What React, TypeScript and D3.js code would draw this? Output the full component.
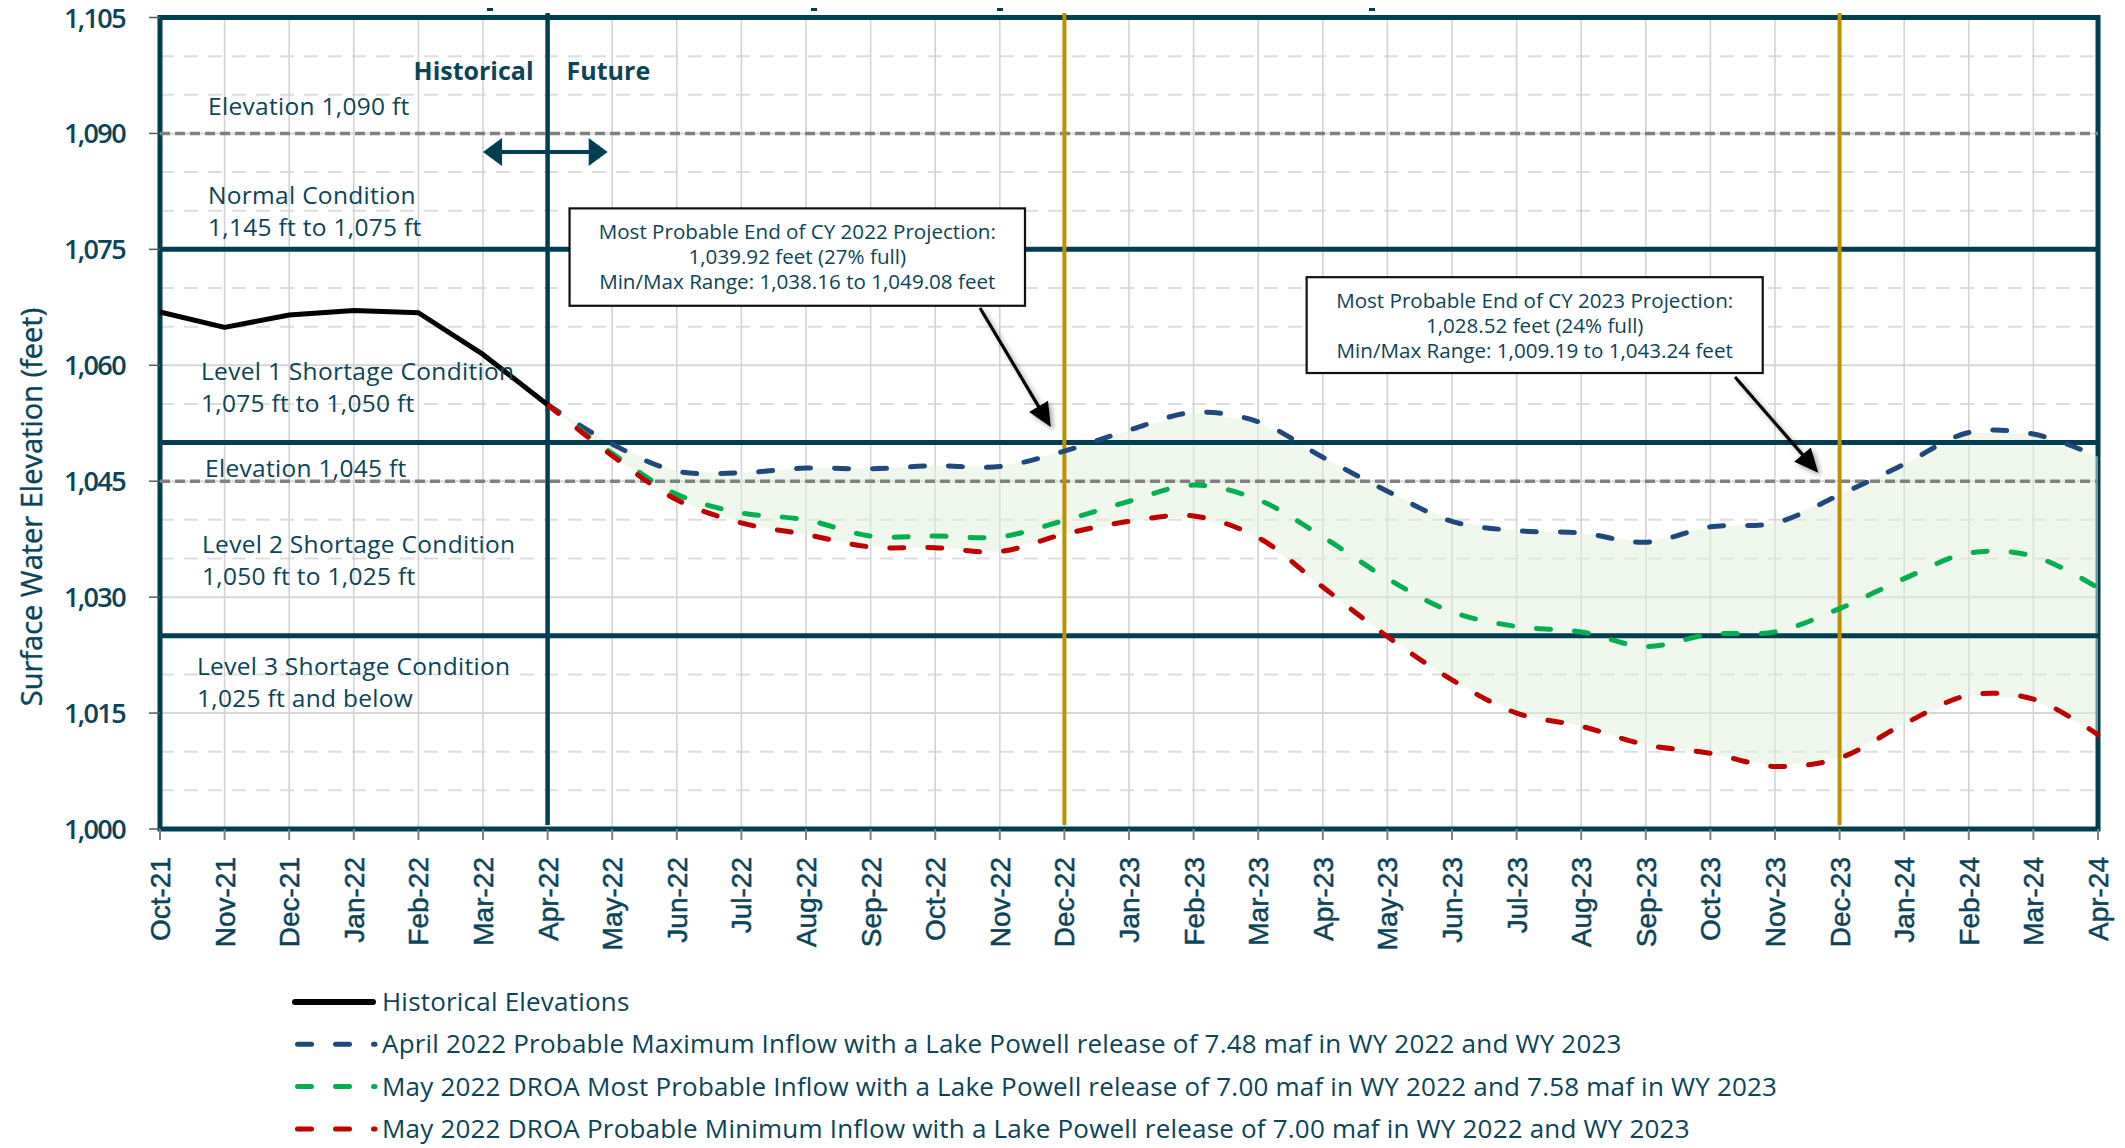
import React from 'react';
import * as d3 from 'd3';

// ---------- data ----------
const months = ['Oct-21','Nov-21','Dec-21','Jan-22','Feb-22','Mar-22','Apr-22','May-22','Jun-22','Jul-22','Aug-22','Sep-22','Oct-22','Nov-22','Dec-22','Jan-23','Feb-23','Mar-23','Apr-23','May-23','Jun-23','Jul-23','Aug-23','Sep-23','Oct-23','Nov-23','Dec-23','Jan-24','Feb-24','Mar-24','Apr-24'];

// Oct-21 .. Apr-22
const historical = [1066.9, 1064.9, 1066.5, 1067.1, 1066.8, 1061.4, 1054.9];

// Apr-22 .. Apr-24 (projections start at month index 6)
const futureStart = 6;
const maxInflow = [1054.9, 1049.8, 1046.3, 1046.1, 1046.7, 1046.6, 1047.0, 1046.9, 1048.9, 1051.6, 1053.9, 1052.7, 1048.1, 1043.7, 1039.8, 1038.6, 1038.3, 1037.1, 1039.1, 1039.6, 1043.24, 1047.2, 1051.3, 1051.1, 1048.2];
const mostProbable = [1054.9, 1048.6, 1043.3, 1040.9, 1040.0, 1037.9, 1037.9, 1037.8, 1039.92, 1042.4, 1044.5, 1042.6, 1037.8, 1032.4, 1028.1, 1026.2, 1025.5, 1023.6, 1025.2, 1025.5, 1028.52, 1032.4, 1035.7, 1035.3, 1031.2];
const minInflow = [1054.9, 1048.3, 1042.6, 1039.6, 1038.1, 1036.5, 1036.4, 1035.9, 1038.16, 1039.8, 1040.5, 1037.7, 1031.3, 1024.9, 1019.3, 1015.0, 1013.3, 1010.9, 1009.8, 1008.1, 1009.19, 1013.6, 1017.3, 1016.8, 1012.2];

const yTicks = [1000, 1015, 1030, 1045, 1060, 1075, 1090, 1105];
const yMinor = [1005, 1010, 1020, 1025, 1035, 1040, 1050, 1055, 1065, 1070, 1080, 1085, 1095, 1100];
const shortageLevels = [1075, 1050, 1025];
const elevationRefs = [1090, 1045];
const dividerMonth = 'Apr-22';
const endOfYearMonths = ['Dec-22', 'Dec-23'];

const zoneLabels = [
  ['Elevation 1,090 ft'],
  ['Normal Condition', '1,145 ft to 1,075 ft'],
  ['Level 1 Shortage Condition', '1,075 ft to 1,050 ft'],
  ['Elevation 1,045 ft'],
  ['Level 2 Shortage Condition', '1,050 ft to 1,025 ft'],
  ['Level 3 Shortage Condition', '1,025 ft and below'],
];

const annotation2022 = ['Most Probable End of CY 2022 Projection:', '1,039.92 feet (27% full)', 'Min/Max Range: 1,038.16 to 1,049.08 feet'];
const annotation2023 = ['Most Probable End of CY 2023 Projection:', '1,028.52 feet (24% full)', 'Min/Max Range: 1,009.19 to 1,043.24 feet'];

const legendItems = [
  'Historical Elevations',
  'April 2022 Probable Maximum Inflow with a Lake Powell release of 7.48 maf in WY 2022 and WY 2023',
  'May 2022 DROA Most Probable Inflow with a Lake Powell release of 7.00 maf in WY 2022 and 7.58 maf in WY 2023',
  'May 2022 DROA Probable Minimum Inflow with a Lake Powell release of 7.00 maf in WY 2022 and WY 2023',
];

// ---------- styles ----------
const TEAL = '#003E51';
const TEXT = '#0B4457';
const BLUE = '#1F497D';
const GREEN = '#00B050';
const RED = '#C00000';
const GOLD = '#BF9000';
const SANS = '"Open Sans", "Noto Sans", sans-serif';

const W = 2125, H = 1148;
const PL = 160, PR = 2098, PT = 17.5, PB = 829;

export default function App() {
  const x = d3.scaleLinear().domain([0, months.length - 1]).range([PL, PR]);
  const y = d3.scaleLinear().domain([1000, 1105]).range([PB, PT]);

  const curve = d3.curveCatmullRom.alpha(0.5);
  const line = d3.line<[number, number]>().x(d => x(d[0])).y(d => y(d[1])).curve(curve);
  const histLine = d3.line<[number, number]>().x(d => x(d[0])).y(d => y(d[1])).curve(d3.curveLinear);
  const toPts = (arr: number[], start: number) => arr.map((v, i) => [start + i, v] as [number, number]);

  const histPts = toPts(historical, 0);
  const maxPts = toPts(maxInflow, futureStart);
  const mpPts = toPts(mostProbable, futureStart);
  const minPts = toPts(minInflow, futureStart);

  const area = d3.area<number>()
    .x((_, i) => x(futureStart + i))
    .y0((_, i) => y(minInflow[i]))
    .y1(v => y(v))
    .curve(d3.curveLinear);

  const mi = (m: string) => months.indexOf(m);
  const dash = '14 24';

  // zone label layout (x px, baseline as elevation)
  const zoneLayout = [
    { x: 208, y: [1092.4] },
    { x: 208, y: [1080.9, 1076.7] },
    { x: 201, y: [1058.1, 1053.95] },
    { x: 205, y: [1045.55] },
    { x: 202, y: [1035.7, 1031.55] },
    { x: 197, y: [1019.9, 1015.8] },
  ];

  const box1 = { x0: x(6.34), x1: x(13.39), y0: y(1080.3), y1: y(1067.7), from: [980, 308], tip: [x(13.79), y(1052.0)] };
  const box2 = { x0: x(17.75), x1: x(24.81), y0: y(1071.4), y1: y(1059.0), from: [1735, 377], tip: [x(25.67), y(1046.1)] };

  const arrowHead = (from: number[], tip: number[], len = 24, half = 11) => {
    const dx = tip[0] - from[0], dy = tip[1] - from[1];
    const L = Math.hypot(dx, dy);
    const ux = dx / L, uy = dy / L;
    const bx = tip[0] - ux * len, by = tip[1] - uy * len;
    return `M${tip[0]},${tip[1]} L${bx - uy * half},${by + ux * half} L${bx + uy * half},${by - ux * half} Z`;
  };
  const arrowLineEnd = (from: number[], tip: number[], len = 20) => {
    const dx = tip[0] - from[0], dy = tip[1] - from[1];
    const L = Math.hypot(dx, dy);
    return [tip[0] - dx / L * len, tip[1] - dy / L * len];
  };

  const renderBox = (b: typeof box1, lines: string[], key: string) => {
    const cx = (b.x0 + b.x1) / 2;
    const e = arrowLineEnd(b.from, b.tip);
    return (
      <g key={key}>
        <g filter="url(#shadow)">
          <line x1={b.from[0]} y1={b.from[1]} x2={e[0]} y2={e[1]} stroke="#000" strokeWidth={3.2} />
          <path d={arrowHead(b.from, b.tip)} fill="#000" />
        </g>
        <rect x={b.x0} y={b.y0} width={b.x1 - b.x0} height={b.y1 - b.y0} fill="#fff" stroke="#111" strokeWidth={2.2} />
        {lines.map((t, i) => (
          <text key={i} x={cx} y={b.y0 + 31 + i * 25} textAnchor="middle" fontFamily={SANS} fontSize={20.6} fill={TEXT}>{t}</text>
        ))}
      </g>
    );
  };

  const arrowY = y(1087.6);
  const ax0 = x(5), ax1 = x(6.93);

  return (
    <svg width={W} height={H} style={{ position: 'absolute', left: 0, top: 0, background: '#fff' }}>
      <defs>
        <filter id="shadow" x="-20%" y="-20%" width="140%" height="140%">
          <feDropShadow dx="3" dy="3" stdDeviation="2.5" floodColor="#000" floodOpacity="0.35" />
        </filter>
      </defs>
      <rect x={0} y={0} width={W} height={H} fill="#fff" />

      {/* minor dashed gridlines */}
      {yMinor.map(v => (
        <line key={'mn' + v} x1={PL} x2={PR} y1={y(v)} y2={y(v)} stroke="#DEDEDE" strokeWidth={2} strokeDasharray="14 10" />
      ))}
      {/* major gridlines */}
      {yTicks.map(v => (
        <line key={'mj' + v} x1={PL} x2={PR} y1={y(v)} y2={y(v)} stroke="#D6D6D6" strokeWidth={2} />
      ))}
      {/* vertical gridlines */}
      {months.map((m, i) => (
        <line key={'vg' + m} x1={x(i)} x2={x(i)} y1={PT} y2={PB} stroke="#D3D3D3" strokeWidth={1.6} />
      ))}

      {/* plot border */}
      <rect x={PL} y={PT} width={PR - PL} height={PB - PT} fill="none" stroke={TEAL} strokeWidth={5} />

      {/* projection band */}
      <path d={area(maxInflow) || ''} fill="#E2EFDA" fillOpacity={0.5} />

      {/* elevation reference dashed lines */}
      {elevationRefs.map(v => (
        <line key={'er' + v} x1={PL} x2={PR} y1={y(v)} y2={y(v)} stroke="#808080" strokeWidth={3.5} strokeDasharray="10 5" />
      ))}
      {/* shortage thresholds */}
      {shortageLevels.map(v => (
        <line key={'sl' + v} x1={PL} x2={PR} y1={y(v)} y2={y(v)} stroke={TEAL} strokeWidth={5} />
      ))}

      {/* vertical divider & end-of-year lines */}
      <line x1={x(mi(dividerMonth))} x2={x(mi(dividerMonth))} y1={13} y2={825} stroke={TEAL} strokeWidth={4.5} />
      {endOfYearMonths.map(m => (
        <line key={'ey' + m} x1={x(mi(m))} x2={x(mi(m))} y1={13} y2={825} stroke={GOLD} strokeWidth={4} />
      ))}

      {/* tiny marks above the top border */}
      {[490, 814, 1000, 1372].map(px => (
        <rect key={'tm' + px} x={px - 3} y={8} width={6} height={3} fill={TEAL} />
      ))}

      {/* axes ticks */}
      {yTicks.map(v => (
        <g key={'yt' + v}>
          <line x1={149} x2={PL} y1={y(v)} y2={y(v)} stroke="#595959" strokeWidth={1.5} />
          <text x={125} y={y(v) + 10} textAnchor="end" fontFamily={SANS} fontWeight={600} fontSize={27} letterSpacing={-1.6} fill={TEXT}>{d3.format(',')(v)}</text>
        </g>
      ))}
      {months.map((m, i) => (
        <g key={'xt' + m}>
          <line x1={x(i)} x2={x(i)} y1={PB} y2={840} stroke="#7F7F7F" strokeWidth={2} />
          <text transform={`translate(${x(i) + 10},857) rotate(-90)`} textAnchor="end" fontFamily='"Liberation Sans", Arial, sans-serif' fontSize={28} stroke={TEXT} strokeWidth={0.5} fill={TEXT}>{m}</text>
        </g>
      ))}
      <text transform={`translate(42,507) rotate(-90)`} textAnchor="middle" fontFamily={SANS} fontSize={29} stroke={TEXT} strokeWidth={0.4} fill={TEXT}>Surface Water Elevation  (feet)</text>

      {/* series */}
      <path d={line(maxPts) || ''} fill="none" stroke={BLUE} strokeWidth={5} strokeDasharray={dash} strokeLinecap="round" />
      <path d={line(mpPts) || ''} fill="none" stroke={GREEN} strokeWidth={5} strokeDasharray={dash} strokeLinecap="round" />
      <path d={line(minPts) || ''} fill="none" stroke={RED} strokeWidth={5} strokeDasharray={dash} strokeLinecap="round" />
      <path d={histLine(histPts) || ''} fill="none" stroke="#000" strokeWidth={5} strokeLinejoin="round" />

      {/* zone labels */}
      {zoneLabels.map((lines, i) => (
        <g key={'zl' + i}>
          {lines.map((t, j) => (
            <text key={j} x={zoneLayout[i].x} y={y(zoneLayout[i].y[j])} fontFamily={SANS} fontSize={24.5} letterSpacing={0.3} fill={TEXT}>{t}</text>
          ))}
        </g>
      ))}

      {/* historical / future */}
      <text x={x(6) - 14} y={80} textAnchor="end" fontFamily={SANS} fontWeight={700} fontSize={25} fill={TEXT}>Historical</text>
      <text x={x(6) + 19} y={80} fontFamily={SANS} fontWeight={700} fontSize={25} fill={TEXT}>Future</text>
      <line x1={ax0 + 15} x2={ax1 - 15} y1={arrowY} y2={arrowY} stroke={TEAL} strokeWidth={4} />
      <path d={arrowHead([ax1, arrowY], [ax0, arrowY], 19, 14)} fill={TEAL} />
      <path d={arrowHead([ax0, arrowY], [ax1, arrowY], 19, 14)} fill={TEAL} />

      {/* annotations */}
      {renderBox(box1, annotation2022, 'b1')}
      {renderBox(box2, annotation2023, 'b2')}

      {/* legend */}
      {legendItems.map((t, i) => {
        const by = 1011 + i * 42.3;
        const sy = by - 9;
        const color = [null, BLUE, GREEN, RED][i];
        return (
          <g key={'lg' + i}>
            {i === 0 ? (
              <line x1={295} x2={373} y1={sy} y2={sy} stroke="#000" strokeWidth={6} strokeLinecap="round" />
            ) : (
              <line x1={297.5} x2={375} y1={sy} y2={sy} stroke={color as string} strokeWidth={5} strokeDasharray={dash} strokeLinecap="round" />
            )}
            <text x={382} y={by} fontFamily={SANS} fontSize={26} letterSpacing={0.2} fill={TEXT}>{t}</text>
          </g>
        );
      })}
    </svg>
  );
}
